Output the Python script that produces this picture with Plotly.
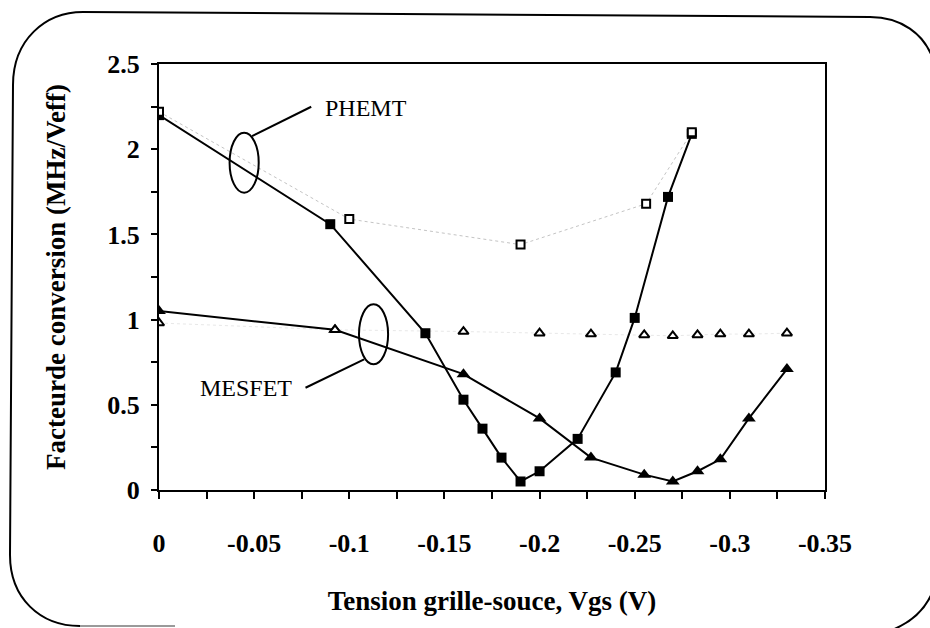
import plotly.graph_objects as go

# Gate-source voltage (V) and conversion factor (MHz/Veff)
vgs_phemt_fill = [0, -0.09, -0.14, -0.16, -0.17, -0.18, -0.19, -0.20, -0.22, -0.24, -0.25, -0.2675, -0.28]
fc_phemt_fill = [2.20, 1.56, 0.92, 0.53, 0.36, 0.19, 0.05, 0.11, 0.30, 0.69, 1.01, 1.72, 2.09]

vgs_phemt_open = [0, -0.10, -0.19, -0.256, -0.28]
fc_phemt_open = [2.22, 1.59, 1.44, 1.68, 2.10]

vgs_mesfet_fill = [0, -0.0925, -0.16, -0.20, -0.227, -0.255, -0.27, -0.283, -0.295, -0.31, -0.33]
fc_mesfet_fill = [1.05, 0.94, 0.68, 0.42, 0.19, 0.09, 0.05, 0.11, 0.18, 0.42, 0.71]

vgs_mesfet_open = [0, -0.0925, -0.16, -0.20, -0.227, -0.255, -0.27, -0.283, -0.295, -0.31, -0.33]
fc_mesfet_open = [0.98, 0.94, 0.93, 0.92, 0.915, 0.91, 0.905, 0.91, 0.915, 0.915, 0.92]

x_tickvals = [0, -0.05, -0.10, -0.15, -0.20, -0.25, -0.30, -0.35]
x_ticktext = ["0", "-0.05", "-0.1", "-0.15", "-0.2", "-0.25", "-0.3", "-0.35"]
y_tickvals = [0, 0.5, 1.0, 1.5, 2.0, 2.5]
y_ticktext = ["0", "0.5", "1", "1.5", "2", "2.5"]

SERIF = "Liberation Serif"
W, H = 930, 628
ML, MR, MT, MB = 159, 105, 64, 138
PW, PH = W - ML - MR, H - MT - MB


def px(x, y):
    """Pixel position on the page -> paper coordinates."""
    return (x - ML) / PW, (H - MB - y) / PH


def path(cmds):
    out = []
    for c in cmds:
        if isinstance(c, str):
            out.append(c)
        else:
            a, b = px(*c)
            out.append(f"{a:.5f},{b:.5f}")
    return " ".join(out)


fig = go.Figure()

# faint guide lines through the open-marker measurements
fig.add_trace(go.Scatter(x=vgs_phemt_open, y=fc_phemt_open, mode="lines",
                         line=dict(color="#c4c4c4", width=1, dash="dot"),
                         showlegend=False, hoverinfo="skip"))
fig.add_trace(go.Scatter(x=vgs_mesfet_open, y=fc_mesfet_open, mode="lines",
                         line=dict(color="#e8e8e8", width=1, dash="dot"),
                         showlegend=False, hoverinfo="skip"))

fig.add_trace(go.Scatter(x=vgs_mesfet_fill, y=fc_mesfet_fill, mode="lines+markers",
                         name="MESFET",
                         line=dict(color="black", width=2),
                         marker=dict(symbol="triangle-up", size=12, color="black"),
                         showlegend=False))
fig.add_trace(go.Scatter(x=vgs_phemt_fill, y=fc_phemt_fill, mode="lines+markers",
                         name="PHEMT",
                         line=dict(color="black", width=2),
                         marker=dict(symbol="square", size=10, color="black"),
                         showlegend=False))
fig.add_trace(go.Scatter(x=vgs_mesfet_open, y=fc_mesfet_open, mode="markers",
                         name="MESFET (open)",
                         marker=dict(symbol="triangle-up", size=9, color="white",
                                     line=dict(color="black", width=2)),
                         showlegend=False))
fig.add_trace(go.Scatter(x=vgs_phemt_open, y=fc_phemt_open, mode="markers",
                         name="PHEMT (open)",
                         marker=dict(symbol="square", size=8, color="white",
                                     line=dict(color="black", width=2)),
                         showlegend=False))

shapes = []
# ellipses grouping each device's curves
shapes.append(dict(type="circle", xref="x", yref="y",
                   x0=-0.0371, x1=-0.0524, y0=1.745, y1=2.097,
                   line=dict(color="black", width=2)))
shapes.append(dict(type="circle", xref="x", yref="y",
                   x0=-0.1051, x1=-0.1204, y0=0.738, y1=1.090,
                   line=dict(color="black", width=2)))
# leader lines to the labels
shapes.append(dict(type="line", xref="x", yref="y",
                   x0=-0.0489, y0=2.077, x1=-0.0800, y1=2.249,
                   line=dict(color="black", width=2)))
shapes.append(dict(type="line", xref="x", yref="y",
                   x0=-0.0770, y0=0.600, x1=-0.1078, y1=0.767,
                   line=dict(color="black", width=2)))

# rounded outer frame
frame = path(["M", (83, 12), "C", (45, 12), (13, 40), (13, 85),
              "L", (10, 555),
              "C", (10, 598), (40, 626), (80, 626)])
shapes.append(dict(type="path", xref="paper", yref="paper", path=frame,
                   line=dict(color="black", width=2)))
shapes.append(dict(type="path", xref="paper", yref="paper",
                   path=path(["M", (80, 626), "L", (175, 626)]),
                   line=dict(color="#9a9a9a", width=2)))
shapes.append(dict(type="path", xref="paper", yref="paper",
                   path=path(["M", (83, 12), "L", (870, 17),
                              "C", (900, 17), (925, 33), (934, 62)]),
                   line=dict(color="black", width=2)))
shapes.append(dict(type="path", xref="paper", yref="paper",
                   path=path(["M", (934, 588), "C", (927, 608), (912, 622), (892, 630)]),
                   line=dict(color="black", width=2)))

annotations = [
    dict(x=-0.1087, y=2.242, xref="x", yref="y", text="PHEMT", showarrow=False,
         font=dict(family=SERIF, size=24, color="black")),
    dict(x=-0.0459, y=0.599, xref="x", yref="y", text="MESFET", showarrow=False,
         font=dict(family=SERIF, size=24, color="black")),
]

axis_common = dict(showgrid=False, zeroline=False, showline=True, linecolor="black",
                   linewidth=2, mirror=True, ticks="outside", tickcolor="black",
                   tickwidth=1.5, tickmode="array",
                   tickfont=dict(family=SERIF, size=26, color="black", weight="bold"))

fig.update_layout(
    width=W, height=H,
    margin=dict(l=ML, r=MR, t=MT, b=MB, pad=0),
    paper_bgcolor="white", plot_bgcolor="white",
    shapes=shapes, annotations=annotations,
    xaxis=dict(axis_common, range=[0, -0.35], tickvals=x_tickvals, ticktext=x_ticktext,
               ticklen=7, ticklabelstandoff=22,
               minor=dict(tick0=0, dtick=0.025, ticks="outside", ticklen=7,
                          tickcolor="black", tickwidth=1.5),
               title=dict(text="Tension grille-souce, Vgs (V)", standoff=34,
                          font=dict(family=SERIF, size=27, color="black", weight="bold"))),
    yaxis=dict(axis_common, range=[0, 2.5], tickvals=y_tickvals, ticktext=y_ticktext,
               ticklen=6, ticklabelstandoff=6,
               minor=dict(tick0=0, dtick=0.25, ticks="outside", ticklen=6,
                          tickcolor="black", tickwidth=1.5),
               title=dict(text="Facteurde conversion (MHz/Veff)", standoff=34,
                          font=dict(family=SERIF, size=27, color="black", weight="bold"))),
)

fig.write_html("out.html")
